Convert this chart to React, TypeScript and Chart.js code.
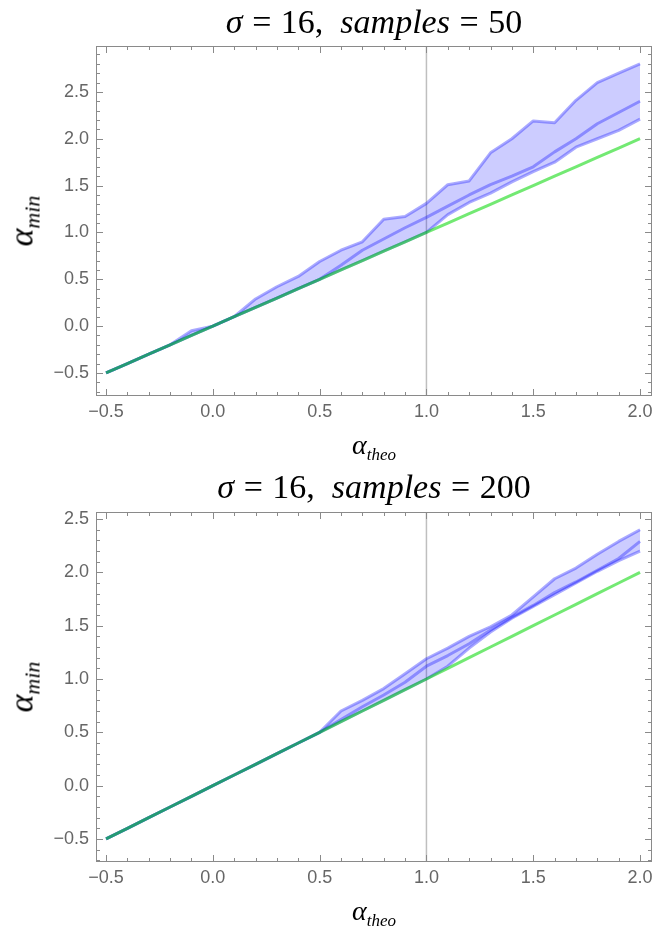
import React, { useEffect, useRef } from "react";
import { Chart, registerables } from "chart.js";

Chart.register(...registerables);

// α_theo grid shared by both runs
const alphaTheo = [-0.5, -0.4, -0.3, -0.2, -0.1, 0.0, 0.1, 0.2, 0.3, 0.4, 0.5, 0.6, 0.7, 0.8, 0.9, 1.0, 1.1, 1.2, 1.3, 1.4, 1.5, 1.6, 1.7, 1.8, 1.9, 2.0];
// ideal estimator: α_min = α_theo
const identityLine = [-0.5, -0.4, -0.3, -0.2, -0.1, 0.0, 0.1, 0.2, 0.3, 0.4, 0.5, 0.6, 0.7, 0.8, 0.9, 1.0, 1.1, 1.2, 1.3, 1.4, 1.5, 1.6, 1.7, 1.8, 1.9, 2.0];

// samples = 50
const upper50 = [-0.5, -0.4, -0.3, -0.2, -0.05, 0.0, 0.1, 0.29, 0.42, 0.53, 0.69, 0.81, 0.9, 1.14, 1.17, 1.31, 1.51, 1.55, 1.85, 2.0, 2.19, 2.17, 2.41, 2.6, 2.7, 2.8];
const mean50 = [-0.5, -0.4, -0.3, -0.2, -0.1, 0.0, 0.1, 0.2, 0.3, 0.4, 0.5, 0.65, 0.81, 0.93, 1.05, 1.16, 1.28, 1.4, 1.51, 1.6, 1.7, 1.86, 2.0, 2.16, 2.28, 2.4];
const lower50 = [-0.5, -0.4, -0.3, -0.2, -0.1, 0.0, 0.1, 0.2, 0.3, 0.4, 0.5, 0.6, 0.7, 0.8, 0.9, 1.0, 1.19, 1.32, 1.42, 1.54, 1.65, 1.75, 1.91, 2.0, 2.09, 2.21];

// samples = 200
const upper200 = [-0.5, -0.4, -0.3, -0.2, -0.1, 0.0, 0.1, 0.2, 0.3, 0.4, 0.5, 0.7, 0.8, 0.91, 1.05, 1.19, 1.29, 1.4, 1.49, 1.6, 1.77, 1.94, 2.04, 2.17, 2.29, 2.4];
const mean200 = [-0.5, -0.4, -0.3, -0.2, -0.1, 0.0, 0.1, 0.2, 0.3, 0.4, 0.5, 0.62, 0.74, 0.85, 0.97, 1.12, 1.22, 1.33, 1.46, 1.58, 1.69, 1.81, 1.91, 2.02, 2.13, 2.29];
const lower200 = [-0.5, -0.4, -0.3, -0.2, -0.1, 0.0, 0.1, 0.2, 0.3, 0.4, 0.5, 0.6, 0.7, 0.8, 0.9, 1.0, 1.12, 1.29, 1.44, 1.57, 1.68, 1.79, 1.9, 2.01, 2.11, 2.2];

const xTickValues = [-0.5, 0, 0.5, 1, 1.5, 2];
const xTickLabels = ["\u22120.5", "0.0", "0.5", "1.0", "1.5", "2.0"];
const yTickValues = [-0.5, 0, 0.5, 1, 1.5, 2, 2.5];
const yTickLabels = ["\u22120.5", "0.0", "0.5", "1.0", "1.5", "2.0", "2.5"];
const gridLineAt = [1.0];

const SERIF = "'Liberation Serif', 'Times New Roman', serif";
const SANS = "'Liberation Sans', Arial, sans-serif";

const frameTicksPlugin = {
  id: "frameTicks",
  beforeDatasetsDraw(chart: any) {
    const { ctx, chartArea: a, scales } = chart;
    ctx.save();
    ctx.strokeStyle = "rgba(0,0,0,0.25)";
    ctx.lineWidth = 1.5;
    for (const v of gridLineAt) {
      const px = scales.x.getPixelForValue(v);
      ctx.beginPath();
      ctx.moveTo(px, a.top);
      ctx.lineTo(px, a.bottom);
      ctx.stroke();
    }
    ctx.restore();
  },
  afterDatasetsDraw(chart: any) {
    const { ctx, chartArea: a, scales } = chart;
    ctx.save();
    ctx.strokeStyle = "#8a8a8a";
    ctx.lineWidth = 1;
    ctx.strokeRect(a.left + 0.5, a.top + 0.5, a.right - a.left - 1, a.bottom - a.top - 1);
    ctx.beginPath();
    const xs = scales.x;
    const ys = scales.y;
    for (let k = Math.ceil(xs.min * 10 - 1e-6); k <= Math.floor(xs.max * 10 + 1e-6); k++) {
      const len = k % 5 === 0 ? 7 : 4;
      const p = Math.round(xs.getPixelForValue(k / 10)) + 0.5;
      ctx.moveTo(p, a.bottom);
      ctx.lineTo(p, a.bottom - len);
      ctx.moveTo(p, a.top);
      ctx.lineTo(p, a.top + len);
    }
    for (let k = Math.ceil(ys.min * 10 - 1e-6); k <= Math.floor(ys.max * 10 + 1e-6); k++) {
      const len = k % 5 === 0 ? 7 : 4;
      const p = Math.round(ys.getPixelForValue(k / 10)) + 0.5;
      ctx.moveTo(a.left, p);
      ctx.lineTo(a.left + len, p);
      ctx.moveTo(a.right, p);
      ctx.lineTo(a.right - len, p);
    }
    ctx.stroke();
    ctx.restore();
  },
};

type PanelProps = {
  upper: number[];
  mean: number[];
  lower: number[];
  yMin: number;
  yMax: number;
  height: number;
  areaTop: number;
  areaBottom: number;
};

function pts(ys: number[]) {
  return alphaTheo.map((x, i) => ({ x, y: ys[i] }));
}

function Panel({ upper, mean, lower, yMin, yMax, height, areaTop, areaBottom }: PanelProps) {
  const ref = useRef<HTMLCanvasElement | null>(null);
  useEffect(() => {
    if (!ref.current) return;
    const blue = "rgba(20,20,255,0.36)";
    const lineBase = {
      pointRadius: 0,
      borderWidth: 3,
      tension: 0,
      borderJoinStyle: "round" as const,
    };
    const chart = new Chart(ref.current, {
      type: "line",
      data: {
        datasets: [
          { ...lineBase, label: "ideal", data: pts(identityLine), borderColor: "rgba(0,215,0,0.55)", fill: false, order: 0 },
          { ...lineBase, label: "upper", data: pts(upper), borderColor: blue, fill: 3, backgroundColor: "rgba(0,0,255,0.2)", order: 3 },
          { ...lineBase, label: "mean", data: pts(mean), borderColor: blue, fill: false, order: 1 },
          { ...lineBase, label: "lower", data: pts(lower), borderColor: blue, fill: false, order: 2 },
        ],
      },
      options: {
        animation: false,
        responsive: false,
        devicePixelRatio: 1,
        layout: { padding: { top: areaTop, right: 1, left: 0, bottom: 0 } },
        plugins: { legend: { display: false }, tooltip: { enabled: false }, title: { display: false } },
        scales: {
          x: {
            type: "linear",
            min: -0.547,
            max: 2.056,
            grid: { display: false, drawTicks: false },
            border: { display: false },
            afterBuildTicks: (s: any) => {
              s.ticks = xTickValues.map((v) => ({ value: v }));
            },
            afterFit: (s: any) => {
              s.height = height - areaBottom;
              s.paddingLeft = 0;
              s.paddingRight = 0;
            },
            ticks: {
              autoSkip: false,
              maxRotation: 0,
              padding: 5,
              color: "#666",
              font: { family: SANS, size: 18 },
              callback: (_v: any, i: number) => xTickLabels[i],
            },
          },
          y: {
            type: "linear",
            min: yMin,
            max: yMax,
            grid: { display: false, drawTicks: false },
            border: { display: false },
            afterBuildTicks: (s: any) => {
              s.ticks = yTickValues.map((v) => ({ value: v }));
            },
            afterFit: (s: any) => {
              s.width = 96;
              s.paddingTop = 0;
              s.paddingBottom = 0;
            },
            ticks: {
              autoSkip: false,
              padding: 7,
              color: "#666",
              font: { family: SANS, size: 18 },
              callback: (_v: any, i: number) => yTickLabels[i],
            },
          },
        },
      },
      plugins: [frameTicksPlugin],
    });
    return () => chart.destroy();
  }, []);
  return <canvas ref={ref} width={653} height={height} style={{ display: "block", width: 653, height }} />;
}

const gap = { margin: "0 0.28em" };

function Title({ samples, top }: { samples: number; top: number }) {
  return (
    <div
      style={{
        position: "absolute",
        left: 96,
        width: 556,
        top,
        textAlign: "center",
        fontFamily: SERIF,
        fontSize: 34,
        lineHeight: "34px",
        whiteSpace: "nowrap",
        color: "#000",
      }}
    >
      <i>σ</i>
      <span style={gap}>=</span>16,&nbsp;&nbsp;<i>samples</i>
      <span style={gap}>=</span>
      {samples}
    </div>
  );
}

function XLabel({ top }: { top: number }) {
  return (
    <div
      style={{
        position: "absolute",
        left: 96,
        width: 556,
        top,
        textAlign: "center",
        fontFamily: SERIF,
        fontSize: 28,
        lineHeight: "28px",
        whiteSpace: "nowrap",
      }}
    >
      <i>α</i>
      <sub style={{ fontSize: 17, verticalAlign: "-6px" }}>
        <i>theo</i>
      </sub>
    </div>
  );
}

function YLabel({ center }: { center: number }) {
  return (
    <div
      style={{
        position: "absolute",
        left: 27,
        top: center,
        transform: "translate(-50%, -50%) rotate(-90deg)",
        fontFamily: SERIF,
        fontSize: 34,
        lineHeight: "34px",
        whiteSpace: "nowrap",
      }}
    >
      <i>α</i>
      <sub style={{ fontSize: 22, verticalAlign: "-7px" }}>
        <i>min</i>
      </sub>
    </div>
  );
}

export default function App() {
  return (
    <div style={{ position: "absolute", left: 0, top: 0, width: 653, height: 927, background: "#fff", overflow: "hidden" }}>
      <div style={{ position: "absolute", left: 0, top: 0 }}>
        <Panel upper={upper50} mean={mean50} lower={lower50} yMin={-0.746} yMax={2.99} height={465} areaTop={46} areaBottom={396} />
      </div>
      <div style={{ position: "absolute", left: 0, top: 465 }}>
        <Panel upper={upper200} mean={mean200} lower={lower200} yMin={-0.716} yMax={2.566} height={462} areaTop={47} areaBottom={397} />
      </div>
      <Title samples={50} top={5} />
      <Title samples={200} top={470} />
      <XLabel top={431} />
      <XLabel top={897} />
      <YLabel center={221} />
      <YLabel center={687} />
    </div>
  );
}
